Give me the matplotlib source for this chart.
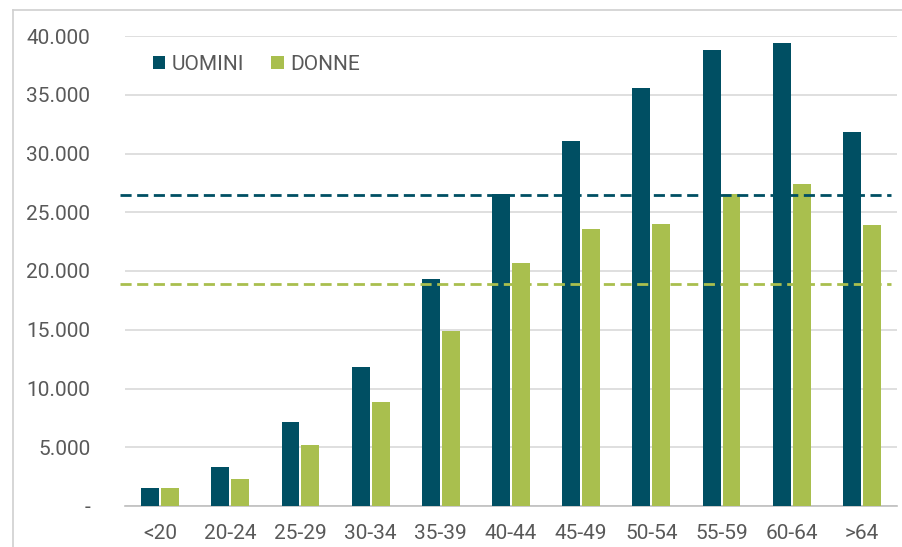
import matplotlib.pyplot as plt
import matplotlib.ticker as mticker
from matplotlib.lines import Line2D
import numpy as np

plt.rcParams['font.family'] = ['Roboto', 'DejaVu Sans']

# data
classi = ['<20', '20-24', '25-29', '30-34', '35-39', '40-44',
          '45-49', '50-54', '55-59', '60-64', '>64']
uomini = [1530, 3320, 7150, 11830, 19320, 26550, 31060, 35570, 38800, 39400, 31830]
donne = [1530, 2300, 5200, 8850, 14900, 20680, 23570, 24000, 26550, 27400, 23900]
media_uomini = 26500
media_donne = 18900

c_uomini = '#004f63'
c_donne = '#a9bf4e'
grey = '#595959'
fs = 15

fig = plt.figure(figsize=(9.03, 5.47), dpi=100)
ax = fig.add_axes([125/903, 1-506/547, (897-125)/903, (506-36)/547])

x = np.arange(len(classi))
w = 0.255
ax.bar(x - w/2 - 0.014, uomini, w, color=c_uomini, label='UOMINI', zorder=3)
ax.bar(x + w/2 + 0.014, donne, w, color=c_donne, label='DONNE', zorder=3)

# average lines (slightly wider than the plot area)
for val, col in [(media_uomini, c_uomini), (media_donne, c_donne)]:
    ax.plot([-0.007, 0.992], [val, val], color=col, lw=2.0, ls=(0, (4, 2)),
            transform=ax.get_yaxis_transform(), clip_on=False, zorder=4)

ax.set_xlim(-0.5, len(classi) - 0.5)
ax.set_ylim(0, 40000)
ax.yaxis.set_major_locator(mticker.MultipleLocator(5000))
ax.yaxis.set_major_formatter(mticker.FuncFormatter(
    lambda v, p: '-' if v == 0 else f'{int(v):,}'.replace(',', '.')))
ax.grid(axis='y', color='#d9d9d9', lw=1.2, zorder=0)
ax.set_axisbelow(True)
for s in ['top', 'right', 'left']:
    ax.spines[s].set_visible(False)
ax.spines['bottom'].set_color('#bfbfbf')
ax.spines['bottom'].set_linewidth(1.2)

ax.set_xticks(x)
ax.set_xticklabels(classi)
ax.tick_params(axis='both', length=0, labelsize=fs, labelcolor=grey)
ax.tick_params(axis='y', pad=25)
ax.tick_params(axis='x', pad=13)

ax.legend(loc='upper left', bbox_to_anchor=(134/903, 1-36/547),
          bbox_transform=fig.transFigure, ncol=2, frameon=False,
          fontsize=fs, labelcolor=grey, handlelength=0.6, handleheight=0.6,
          handletextpad=0.3, columnspacing=1.3)

# outer frame of the original image
fig.add_artist(Line2D([13/903, 13/903], [0, 1-10/547], color='#d0d0d0', lw=1.2))
fig.add_artist(Line2D([13/903, 1], [1-10/547, 1-10/547], color='#d0d0d0', lw=1.2))

fig.savefig('out.png', dpi=100)
